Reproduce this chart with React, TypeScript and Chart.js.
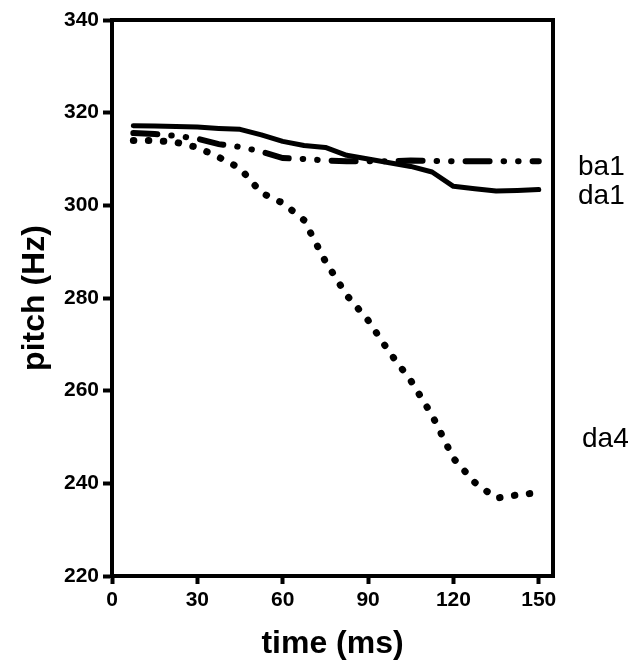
import React, { useEffect, useRef } from 'react';
import { Chart, registerables } from 'chart.js';

Chart.register(...registerables);

// time points (ms)
const times = [7.5, 15, 22.5, 30, 37.5, 45, 52.5, 60, 67.5, 75, 82.5, 90, 97.5, 105, 112.5, 120, 127.5, 135, 142.5, 150];

// pitch (Hz)
const ba1 = [315.6, 315.4, 315.0, 314.4, 313.2, 312.6, 311.6, 310.2, 310.0, 309.7, 309.5, 309.5, 309.5, 309.7, 309.6, 309.5, 309.5, 309.5, 309.5, 309.5];
const da1 = [317.2, 317.1, 317.0, 316.9, 316.6, 316.4, 315.2, 313.8, 312.9, 312.5, 310.8, 310.0, 309.2, 308.4, 307.2, 304.1, 303.6, 303.1, 303.2, 303.4];
const da4 = [314.0, 314.0, 313.6, 312.5, 310.4, 308.0, 302.7, 300.5, 296.8, 287.9, 280.6, 275.2, 268.3, 262.2, 254.7, 245.4, 240.2, 236.8, 237.5, 238.0];

const seriesLabels = ['ba1', 'da1', 'da4'];
const xTicks = [0, 30, 60, 90, 120, 150];
const yTicks = [220, 240, 260, 280, 300, 320, 340];

const FONT = '"Liberation Sans", Arial, Helvetica, sans-serif';

const toPoints = (ys: number[]) => times.map((t, i) => ({ x: t, y: ys[i] }));

const framePlugin = {
  id: 'frame',
  afterDatasetsDraw(chart: any) {
    const { ctx, chartArea } = chart;
    ctx.save();
    ctx.strokeStyle = '#000';
    ctx.lineWidth = 4;
    ctx.strokeRect(chartArea.left, chartArea.top, chartArea.right - chartArea.left, chartArea.bottom - chartArea.top);
    ctx.restore();
  },
};

const labelPlugin = {
  id: 'seriesLabels',
  afterDraw(chart: any) {
    const { ctx, chartArea, scales } = chart;
    const anchors = [
      { dx: 25, y: 306.5 },
      { dx: 25, y: 300.3 },
      { dx: 29, y: 247.8 },
    ];
    ctx.save();
    ctx.fillStyle = '#000';
    ctx.font = `28px ${FONT}`;
    ctx.textAlign = 'left';
    ctx.textBaseline = 'alphabetic';
    seriesLabels.forEach((label, i) => {
      ctx.fillText(label, chartArea.right + anchors[i].dx, scales.y.getPixelForValue(anchors[i].y));
    });
    ctx.restore();
  },
};

export default function App() {
  const ref = useRef<HTMLCanvasElement>(null);

  useEffect(() => {
    const tickFont = { family: FONT, size: 21, weight: 'bold' as const };
    const titleFont = { family: FONT, size: 32, weight: 'bold' as const };
    const chart = new Chart(ref.current!, {
      type: 'line',
      data: {
        datasets: [
          {
            label: seriesLabels[0],
            data: toPoints(ba1),
            borderColor: '#000',
            borderWidth: 6,
            borderDash: [24, 14, 0.5, 14, 0.5, 14],
            borderCapStyle: 'round',
            pointRadius: 0,
            tension: 0,
            fill: false,
          },
          {
            label: seriesLabels[1],
            data: toPoints(da1),
            borderColor: '#000',
            borderWidth: 5,
            borderCapStyle: 'round',
            borderJoinStyle: 'round',
            pointRadius: 0,
            tension: 0,
            fill: false,
          },
          {
            label: seriesLabels[2],
            data: toPoints(da4),
            borderColor: '#000',
            borderWidth: 7,
            borderDash: [0.5, 14.5],
            borderCapStyle: 'round',
            pointRadius: 0,
            tension: 0,
            fill: false,
          },
        ],
      },
      options: {
        animation: false,
        responsive: false,
        maintainAspectRatio: false,
        layout: { padding: { left: 0, top: 20, right: 89, bottom: 0 } },
        plugins: {
          legend: { display: false },
          tooltip: { enabled: false },
        },
        scales: {
          x: {
            type: 'linear',
            min: 0,
            max: 155,
            afterBuildTicks: (s: any) => {
              s.ticks = xTicks.map((v) => ({ value: v }));
            },
            afterFit: (s: any) => {
              s.height = 87;
            },
            ticks: { font: tickFont, color: '#000', padding: 4, maxRotation: 0, autoSkip: false },
            grid: { drawOnChartArea: false, drawTicks: true, tickLength: 8, tickWidth: 4, tickColor: '#000', color: '#000' },
            border: { color: '#000', width: 4 },
            title: { display: true, text: 'time (ms)', font: titleFont, color: '#000', padding: { top: 0, bottom: 0 } },
          },
          y: {
            type: 'linear',
            min: 220,
            max: 340,
            afterBuildTicks: (s: any) => {
              s.ticks = yTicks.map((v) => ({ value: v }));
            },
            afterFit: (s: any) => {
              s.width = 112;
            },
            ticks: { font: tickFont, color: '#000', padding: 4, autoSkip: false },
            grid: { drawOnChartArea: false, drawTicks: true, tickLength: 9, tickWidth: 4, tickColor: '#000', color: '#000' },
            border: { color: '#000', width: 4 },
            title: { display: true, text: 'pitch (Hz)', font: titleFont, color: '#000', padding: { top: 16, bottom: 0 } },
          },
        },
      },
      plugins: [framePlugin, labelPlugin],
    } as any);
    return () => chart.destroy();
  }, []);

  return (
    <div style={{ position: 'absolute', left: 0, top: 0, width: 642, height: 663, background: '#fff' }}>
      <canvas ref={ref} width={642} height={663} style={{ display: 'block' }} />
    </div>
  );
}
